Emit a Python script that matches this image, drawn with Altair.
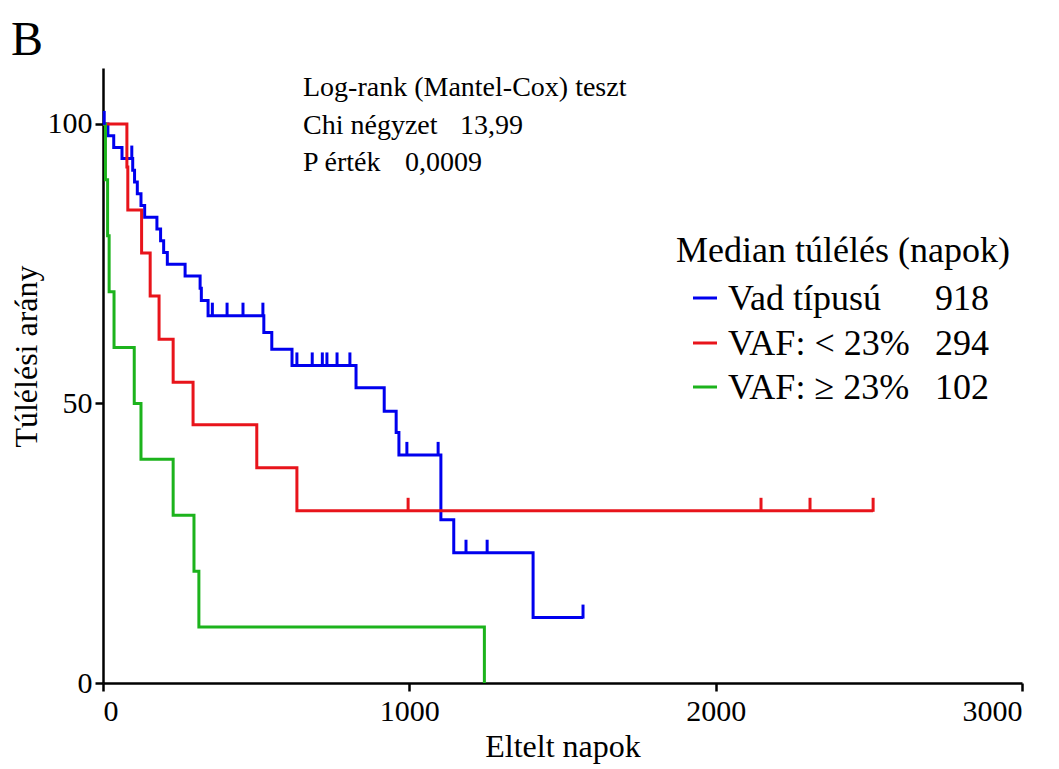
import altair as alt
import pandas as pd

FONT = "Liberation Serif"

# Kaplan-Meier step data (time in days, survival %)
blue_t = [0, 16, 35, 62, 97, 103, 112, 124, 136, 176, 188, 198, 210, 268, 317, 321, 343, 525, 551, 617, 826, 918, 957, 966, 1103, 1145, 1404, 1567]
blue_s = [100, 97.9, 95.8, 93.8, 91.7, 89.6, 87.5, 85.4, 83.3, 81.2, 79.1, 77.0, 74.9, 72.8, 70.6, 68.4, 65.7, 62.7, 59.7, 56.8, 52.8, 48.6, 44.8, 40.8, 29.2, 23.3, 11.7, 11.7]
blue_cens_t = [4, 94, 357, 405, 457, 522, 633, 683, 716, 731, 764, 806, 992, 1094, 1185, 1254, 1567]
blue_cens_s = [100, 93.8, 65.7, 65.7, 65.7, 65.7, 56.8, 56.8, 56.8, 56.8, 56.8, 56.8, 40.8, 40.8, 23.3, 23.3, 11.7]

red_t = [0, 78, 81, 126, 154, 183, 229, 294, 502, 633, 2514]
red_s = [100, 92.3, 84.6, 76.9, 69.2, 61.5, 53.8, 46.2, 38.5, 30.8, 30.8]
red_cens_t = [996, 2148, 2308, 2514]
red_cens_s = [30.8, 30.8, 30.8, 30.8]

green_t = [0, 8, 15, 20, 36, 102, 124, 229, 297, 313, 1245]
green_s = [100, 90, 80, 70, 60, 50, 40, 30, 20, 10, 0]

groups = ["Vad típusú", "VAF: < 23%", "VAF: ≥ 23%"]
medians = ["918", "294", "102"]
colors = ["#0000EE", "#E8141B", "#1CB31C"]

x_ticks = [0, 1000, 2000, 3000]
y_ticks = [0, 50, 100]

stats_labels = ["Log-rank (Mantel-Cox) teszt", "Chi négyzet", "P érték"]
stats_values = ["", "13,99", "0,0009"]

lines_df = pd.concat([
    pd.DataFrame({"t": blue_t, "s": blue_s, "g": groups[0]}),
    pd.DataFrame({"t": red_t, "s": red_s, "g": groups[1]}),
    pd.DataFrame({"t": green_t, "s": green_s, "g": groups[2]}),
])
cens_df = pd.concat([
    pd.DataFrame({"t": blue_cens_t, "s": blue_cens_s, "g": groups[0]}),
    pd.DataFrame({"t": red_cens_t, "s": red_cens_s, "g": groups[1]}),
])

color_scale = alt.Scale(domain=groups, range=colors)
xs = alt.Scale(domain=[0, 3000], nice=False, zero=True)
ys = alt.Scale(domain=[0, 110], nice=False)

x_enc = alt.X("t:Q", scale=xs, axis=alt.Axis(
    values=x_ticks, title="Eltelt napok", titleY=48, format="d",
    labelPadding=5, tickSize=8))
y_enc = alt.Y("s:Q", scale=ys, axis=alt.Axis(
    values=y_ticks, title="Túlélési arány", titleX=-60, titleY=288,
    labelPadding=3, tickSize=8))

lines = alt.Chart(lines_df).mark_line(interpolate="step-after", strokeWidth=3).encode(
    x=x_enc, y=y_enc,
    color=alt.Color("g:N", scale=color_scale, legend=None),
)
ticks = alt.Chart(cens_df).mark_tick(orient="vertical", size=14, thickness=3, yOffset=-6, opacity=1).encode(
    x=alt.X("t:Q", scale=xs), y=alt.Y("s:Q", scale=ys),
    color=alt.Color("g:N", scale=color_scale, legend=None),
)

layers = [lines, ticks]

# Panel letter
layers.append(alt.Chart(pd.DataFrame({"l": ["B"]})).mark_text(
    font=FONT, fontSize=48, align="left", baseline="alphabetic", color="black").encode(
    text="l:N", x=alt.value(-92), y=alt.value(-13)))

# Statistics text
stat_y = [28, 66, 103]
stat_vx = [0, 357, 302]
for i in range(3):
    layers.append(alt.Chart(pd.DataFrame({"l": [stats_labels[i]]})).mark_text(
        font=FONT, fontSize=28, align="left", baseline="alphabetic", color="black").encode(
        text="l:N", x=alt.value(200), y=alt.value(stat_y[i])))
    if stats_values[i]:
        layers.append(alt.Chart(pd.DataFrame({"l": [stats_values[i]]})).mark_text(
            font=FONT, fontSize=28, align="left", baseline="alphabetic", color="black").encode(
            text="l:N", x=alt.value(stat_vx[i]), y=alt.value(stat_y[i])))

# Legend
LF = 36
layers.append(alt.Chart(pd.DataFrame({"l": ["Median túlélés (napok)"]})).mark_text(
    font=FONT, fontSize=LF, align="left", baseline="alphabetic", color="black").encode(
    text="l:N", x=alt.value(573), y=alt.value(194)))
row_y = [230, 275, 319]
for i in range(3):
    layers.append(alt.Chart(pd.DataFrame({"a": [0]})).mark_rule(strokeWidth=3, color=colors[i]).encode(
        x=alt.value(590), x2=alt.value(614), y=alt.value(row_y[i])))
    layers.append(alt.Chart(pd.DataFrame({"l": [groups[i]]})).mark_text(
        font=FONT, fontSize=LF, align="left", baseline="middle", color="black").encode(
        text="l:N", x=alt.value(625), y=alt.value(row_y[i] + 1)))
    layers.append(alt.Chart(pd.DataFrame({"l": [medians[i]]})).mark_text(
        font=FONT, fontSize=LF, align="right", baseline="middle", color="black").encode(
        text="l:N", x=alt.value(886), y=alt.value(row_y[i] + 1)))

chart = alt.layer(*layers).properties(
    width=919, height=615,
    autosize=alt.AutoSizeParams(type="none"),
    padding={"left": 103, "top": 68, "right": 37, "bottom": 86},
    background="white",
).configure_view(stroke=None).configure_axis(
    grid=False, domainColor="black", domainWidth=2.5, tickColor="black", tickWidth=2.5,
    labelFont=FONT, labelFontSize=30, labelColor="black",
    titleFont=FONT, titleFontSize=32, titleFontWeight="normal", titleColor="black",
)

chart.save("out.html", embed_options={"renderer": "svg", "actions": False})
